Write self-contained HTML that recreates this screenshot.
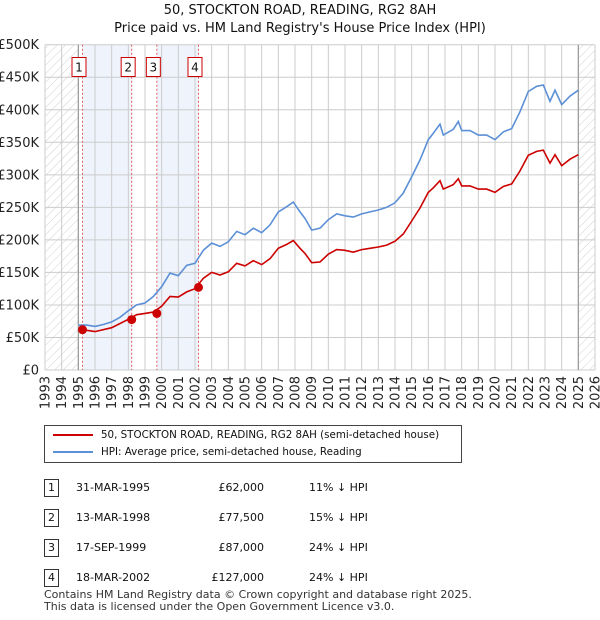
<!DOCTYPE html>
<html><head><meta charset="utf-8"><style>
body{margin:0;background:#fff;font-family:"Liberation Sans","DejaVu Sans",sans-serif;}
#wrap{position:relative;width:600px;height:620px;overflow:hidden;}
text{font-family:"DejaVu Sans","Liberation Sans",sans-serif;}
</style></head><body><div id="wrap">
<svg id="svg" width="600" height="620"></svg>
</div>
<script>
const hpiYears=[1995.0,1995.5,1996,1996.5,1997,1997.5,1998,1998.5,1999,1999.5,2000,2000.5,2001,2001.5,2002,2002.5,2003,2003.5,2004,2004.5,2005,2005.5,2006,2006.5,2007,2007.5,2007.9,2008.3,2008.6,2009,2009.5,2010,2010.5,2011,2011.5,2012,2012.5,2013,2013.5,2014,2014.5,2015,2015.5,2016,2016.3,2016.7,2016.9,2017.5,2017.8,2018,2018.5,2019,2019.5,2020,2020.5,2021,2021.5,2022,2022.5,2022.9,2023.3,2023.6,2024,2024.5,2025];
const hpiValues=[69,69,67,70,74,81,91,100,103,113,128,149,145,161,164,184,195,190,197,213,208,218,211,223,243,251,258,243,233,215,218,231,240,237,235,240,243,246,250,257,272,297,323,354,364,378,361,370,382,368,368,361,361,354,366,371,397,428,436,438,413,430,408,421,430];
const priceYears=[1995.25,1996,1997,1998,1998.5,1999,1999.5,2000,2000.5,2001,2001.5,2002,2002.5,2003,2003.5,2004,2004.5,2005,2005.5,2006,2006.5,2007,2007.5,2007.9,2008.3,2008.6,2009,2009.5,2010,2010.5,2011,2011.5,2012,2012.5,2013,2013.5,2014,2014.5,2015,2015.5,2016,2016.3,2016.7,2016.9,2017.5,2017.8,2018,2018.5,2019,2019.5,2020,2020.5,2021,2021.5,2022,2022.5,2022.9,2023.3,2023.6,2024,2024.5,2025];
const priceValues=[62,59,65,78,85,87,89,98,113,112,120,125,141,150,146,151,164,160,168,162,171,187,193,199,187,179,165,166,178,185,184,181,185,187,189,192,198,209,229,249,273,280,291,278,285,294,283,283,278,278,273,282,286,306,330,336,338,318,331,314,324,331];
const saleYears=[1995.25,1998.2,1999.71,2002.21];
const saleValues=[62,77.5,87,127];
const saleLabels=["1","2","3","4"];
const yTicks=[0,50,100,150,200,250,300,350,400,450,500];
const yTickLabels=["£0","£50K","£100K","£150K","£200K","£250K","£300K","£350K","£400K","£450K","£500K"];
const xTicks=[1993,1994,1995,1996,1997,1998,1999,2000,2001,2002,2003,2004,2005,2006,2007,2008,2009,2010,2011,2012,2013,2014,2015,2016,2017,2018,2019,2020,2021,2022,2023,2024,2025,2026];

const L=45,R=595,T=44.7,B=370;
const X=y=>L+(y-1993)*(R-L)/33;
const Y=v=>B-v*(B-T)/500;
const svg=document.getElementById('svg');
const NS='http://www.w3.org/2000/svg';
function mk(tag,attrs,parent){const e=document.createElementNS(NS,tag);for(const k in attrs)e.setAttribute(k,attrs[k]);(parent||svg).appendChild(e);return e;}

const defs=mk('defs',{});
const pat=mk('pattern',{id:'hatch',width:6,height:6,patternUnits:'userSpaceOnUse',patternTransform:'rotate(45)'},defs);
mk('line',{x1:0,y1:0,x2:0,y2:6,stroke:'#d0d0d0','stroke-width':1},pat);

for(const [a,b] of [[saleYears[0],saleYears[1]],[saleYears[2],saleYears[3]]]){
 const r=mk('rect',{x:X(a),y:T,width:X(b)-X(a),height:B-T,fill:'#eef3fc'});
 
 
}
let h=mk('rect',{x:L,y:T,width:X(1995)-L,height:B-T,fill:'url(#hatch)'});

h=mk('rect',{x:X(2025),y:T,width:R-X(2025),height:B-T,fill:'url(#hatch)'});


for(const t of yTicks){
 const g=mk('line',{x1:L,x2:R,y1:Y(t),y2:Y(t),stroke:'#cccccc','stroke-width':1});
 
}
xTicks.forEach((t,i)=>{
 const g=mk('line',{x1:X(t),x2:X(t),y1:T,y2:B,stroke:'#cccccc','stroke-width':1});
 
});
mk('line',{x1:X(1995),x2:X(1995),y1:T,y2:B,stroke:'#999','stroke-width':1.2});
mk('line',{x1:X(2025),x2:X(2025),y1:T,y2:B,stroke:'#999','stroke-width':1.2});

yTicks.forEach((t,i)=>{
 const tx=mk('text',{x:L-6,y:Y(t)+4.5,'text-anchor':'end','font-size':13,fill:'#222'});
 tx.textContent=yTickLabels[i];
 
});
xTicks.forEach(t=>{
 const tx=mk('text',{x:0,y:0,'text-anchor':'end','font-size':13,fill:'#222',transform:`translate(${X(t)+4.5},${B+6}) rotate(-90)`});
 tx.textContent=t;
 
});

saleYears.forEach((s,i)=>{
 const l=mk('line',{x1:X(s),x2:X(s),y1:T,y2:B,stroke:'#e06060','stroke-width':1,'stroke-dasharray':'2,2'});
 
 const bx=X(s)-3.5;
 const r=mk('rect',{x:bx-7,y:57.5,width:14,height:19,fill:'#fff',stroke:'#cc0000','stroke-width':1});
 
 const tx=mk('text',{x:bx,y:71.5,'text-anchor':'middle','font-size':12,fill:'#111'});
 tx.textContent=saleLabels[i];
 
});

function path(xs,vs){return xs.map((x,i)=>(i?'L':'M')+X(x).toFixed(1)+','+Y(vs[i]).toFixed(1)).join(' ');}
const hp=mk('path',{d:path(hpiYears,hpiValues),fill:'none',stroke:'#5b8fd6','stroke-width':1.6});

const pp=mk('path',{d:path(priceYears,priceValues),fill:'none',stroke:'#cc0000','stroke-width':1.6});

saleYears.forEach((s,i)=>{
 const c=mk('circle',{cx:X(s),cy:Y(saleValues[i]),r:4.5,fill:'#cc0000'});
 
});
</script>
<div style="position:absolute;left:0;top:0;width:600px;text-align:center;font-size:13px;color:#111;line-height:18px;padding-top:2px;font-family:'DejaVu Sans','Liberation Sans',sans-serif">50, STOCKTON ROAD, READING, RG2 8AH<br>Price paid vs. HM Land Registry's House Price Index (HPI)</div>
<div style="position:absolute;left:44px;top:425px;width:416px;height:36px;border:1px solid #444;background:#fff;font-size:10.3px;white-space:nowrap;font-family:'DejaVu Sans','Liberation Sans',sans-serif;color:#111">
 <div style="position:absolute;left:8px;top:3px;"><span style="display:inline-block;width:40px;height:2px;background:#cc0000;vertical-align:middle;margin-right:8px"></span>50, STOCKTON ROAD, READING, RG2 8AH (semi-detached house)</div>
 <div style="position:absolute;left:8px;top:20px;"><span style="display:inline-block;width:40px;height:2px;background:#5b8fd6;vertical-align:middle;margin-right:8px"></span>HPI: Average price, semi-detached house, Reading</div>
</div>
<div style="position:absolute;left:0;top:0;font-size:11px;font-family:'DejaVu Sans','Liberation Sans',sans-serif;color:#111">
 <div style="position:absolute;left:44px;top:479px;width:13px;height:16px;border:1px solid #333;text-align:center;line-height:16px">1</div>
 <div style="position:absolute;left:76px;top:481px;white-space:nowrap">31-MAR-1995</div><div style="position:absolute;left:200px;top:481px;width:64px;text-align:right">£62,000</div><div style="position:absolute;left:309px;top:481px;white-space:nowrap">11% ↓ HPI</div>
 <div style="position:absolute;left:44px;top:509px;width:13px;height:16px;border:1px solid #333;text-align:center;line-height:16px">2</div>
 <div style="position:absolute;left:76px;top:511px;white-space:nowrap">13-MAR-1998</div><div style="position:absolute;left:200px;top:511px;width:64px;text-align:right">£77,500</div><div style="position:absolute;left:309px;top:511px;white-space:nowrap">15% ↓ HPI</div>
 <div style="position:absolute;left:44px;top:539px;width:13px;height:16px;border:1px solid #333;text-align:center;line-height:16px">3</div>
 <div style="position:absolute;left:76px;top:541px;white-space:nowrap">17-SEP-1999</div><div style="position:absolute;left:200px;top:541px;width:64px;text-align:right">£87,000</div><div style="position:absolute;left:309px;top:541px;white-space:nowrap">24% ↓ HPI</div>
 <div style="position:absolute;left:44px;top:569px;width:13px;height:16px;border:1px solid #333;text-align:center;line-height:16px">4</div>
 <div style="position:absolute;left:76px;top:571px;white-space:nowrap">18-MAR-2002</div><div style="position:absolute;left:200px;top:571px;width:64px;text-align:right">£127,000</div><div style="position:absolute;left:309px;top:571px;white-space:nowrap">24% ↓ HPI</div>
</div>
<div style="position:absolute;left:44px;top:589px;font-size:11px;line-height:12px;color:#333;font-family:'DejaVu Sans','Liberation Sans',sans-serif">Contains HM Land Registry data © Crown copyright and database right 2025.<br>This data is licensed under the Open Government Licence v3.0.</div>
</body></html>
